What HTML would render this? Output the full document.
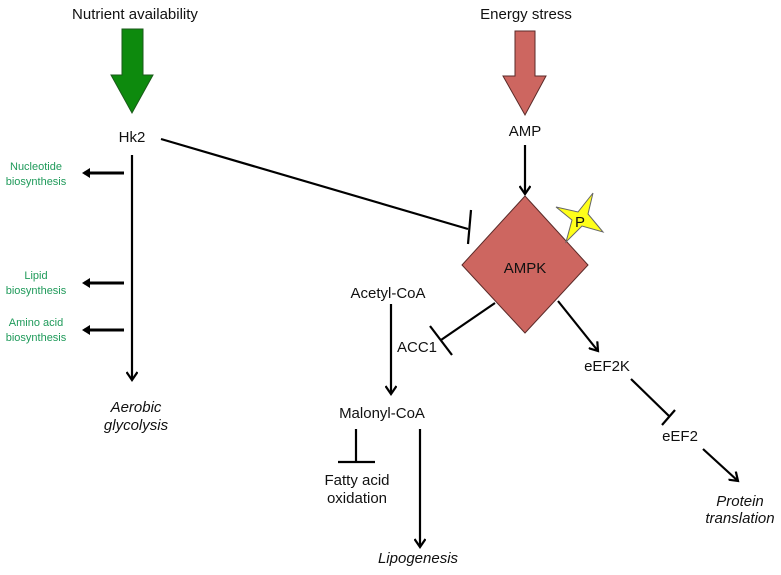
<!DOCTYPE html>
<html><head><style>
html,body{margin:0;padding:0;background:#fff;}
svg text{font-family:"Liberation Sans",Arial,sans-serif;}
</style></head><body>
<svg width="781" height="570" viewBox="0 0 781 570" xmlns="http://www.w3.org/2000/svg">
<defs>
<marker id="a" markerWidth="12" markerHeight="12" refX="9" refY="6" orient="auto" markerUnits="userSpaceOnUse">
<path d="M1,0.5 L9,6 L1,11.5" fill="none" stroke="#000" stroke-width="2.2"/></marker>
<marker id="b" markerWidth="10" markerHeight="10" refX="6" refY="5" orient="auto" markerUnits="userSpaceOnUse">
<path d="M0,0 L8,5 L0,10 Z" fill="#000"/></marker>
</defs>
<polygon points="122,29 143,29 143,75 153,75 132,113 111,75 122,75" fill="#0d8a0d" stroke="#1a5a1a" stroke-width="1"/>
<polygon points="515,31 535,31 535,76 546,76 525,115 503,76 515,76" fill="#cd6660" stroke="#5a2a28" stroke-width="1"/>
<polygon points="525,196 588,265 525,333 462,265" fill="#cd6660" stroke="#5a2a28" stroke-width="1"/>
<polygon points="593,193 588,214 603,232 582,226 566,242 572,220 556,207 578,212" fill="#ffff1a" stroke="#666" stroke-width="1"/>
<g font-size="15" fill="#111">
<text x="135" y="19" text-anchor="middle">Nutrient availability</text>
<text x="526" y="19" text-anchor="middle">Energy stress</text>
<text x="132" y="142" text-anchor="middle">Hk2</text>
<text x="525" y="136" text-anchor="middle">AMP</text>
<text x="525" y="273" text-anchor="middle">AMPK</text>
<text x="580" y="227" text-anchor="middle">P</text>
<text x="388" y="298" text-anchor="middle">Acetyl-CoA</text>
<text x="417" y="352" text-anchor="middle">ACC1</text>
<text x="607" y="371" text-anchor="middle">eEF2K</text>
<text x="382" y="418" text-anchor="middle">Malonyl-CoA</text>
<text x="680" y="441" text-anchor="middle">eEF2</text>
<text x="357" y="485" text-anchor="middle">Fatty acid</text>
<text x="357" y="503" text-anchor="middle">oxidation</text>
<text x="136" y="412" text-anchor="middle" font-style="italic">Aerobic</text>
<text x="136" y="430" text-anchor="middle" font-style="italic">glycolysis</text>
<text x="740" y="506" text-anchor="middle" font-style="italic">Protein</text>
<text x="740" y="523" text-anchor="middle" font-style="italic">translation</text>
<text x="418" y="563" text-anchor="middle" font-style="italic">Lipogenesis</text>
</g>
<g font-size="11" fill="#1f9a5a" text-anchor="middle">
<text x="36" y="170">Nucleotide</text><text x="36" y="185">biosynthesis</text>
<text x="36" y="279">Lipid</text><text x="36" y="294">biosynthesis</text>
<text x="36" y="326">Amino acid</text><text x="36" y="341">biosynthesis</text>
</g>
<g stroke="#000" stroke-width="2.2" fill="none">
<line x1="161" y1="139" x2="468" y2="229"/><line x1="471" y1="210" x2="468" y2="244"/>
<line x1="132" y1="155" x2="132" y2="380" marker-end="url(#a)"/>
<line x1="124" y1="173" x2="84" y2="173" stroke-width="3" marker-end="url(#b)"/>
<line x1="124" y1="283" x2="84" y2="283" stroke-width="3" marker-end="url(#b)"/>
<line x1="124" y1="330" x2="84" y2="330" stroke-width="3" marker-end="url(#b)"/>
<line x1="525" y1="145" x2="525" y2="194" marker-end="url(#a)"/>
<line x1="495" y1="303" x2="441" y2="340"/><line x1="430" y1="326" x2="452" y2="355"/>
<line x1="558" y1="301" x2="598" y2="351" marker-end="url(#a)"/>
<line x1="391" y1="304" x2="391" y2="394" marker-end="url(#a)"/>
<line x1="356" y1="429" x2="356" y2="462"/><line x1="338" y1="462" x2="375" y2="462"/>
<line x1="420" y1="429" x2="420" y2="547" marker-end="url(#a)"/>
<line x1="631" y1="379" x2="669" y2="416"/><line x1="662" y1="425" x2="675" y2="410"/>
<line x1="703" y1="449" x2="738" y2="481" marker-end="url(#a)"/>
</g>
</svg>
</body></html>
